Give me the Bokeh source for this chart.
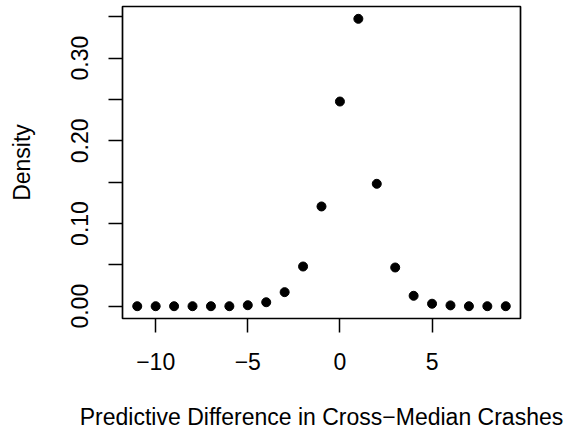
from bokeh.plotting import figure
from bokeh.models import FixedTicker, PrintfTickFormatter, CustomJSTickFormatter, Range1d
from bokeh.embed import file_html
from bokeh.resources import INLINE

# Data
diff = list(range(-11, 10))
density = [0.0, 0.0, 0.0, 0.0, 0.0, 0.0,
           0.0012, 0.0048, 0.017, 0.048, 0.1206, 0.2475,
           0.3475, 0.148, 0.0468, 0.0126, 0.003, 0.001,
           0.0, 0.0, 0.0]
x_ticks = [-10, -5, 0, 5]
y_ticks = [0.0, 0.10, 0.20, 0.30]
y_minor = [0.05, 0.15, 0.25, 0.35]

FONT = "Liberation Sans"
FS = "23px"

p = figure(width=579, height=437, output_backend="svg", toolbar_location=None,
           frame_width=398, frame_height=312,
           x_range=Range1d(-11.8, 9.8), y_range=Range1d(-0.01487, 0.3624),
           min_border_left=122, min_border_top=6, min_border_right=59, min_border_bottom=119,
           x_axis_label="Predictive Difference in Cross\u2212Median Crashes",
           y_axis_label="Density")

p.scatter(diff, density, size=9, color="black", line_color="black")

p.xgrid.visible = False
p.ygrid.visible = False
p.background_fill_color = "white"
p.border_fill_color = "white"
p.outline_line_color = "black"
p.outline_line_width = 1.7

for ax in (p.xaxis[0], p.yaxis[0]):
    ax.axis_line_color = None
    ax.major_tick_out = 14
    ax.major_tick_in = 0
    ax.major_tick_line_color = "black"
    ax.major_tick_line_width = 1.5
    ax.minor_tick_out = 14
    ax.minor_tick_in = 0
    ax.minor_tick_line_color = "black"
    ax.minor_tick_line_width = 1.5
    ax.major_label_text_font = FONT
    ax.major_label_text_font_size = FS
    ax.major_label_text_color = "black"
    ax.axis_label_text_font = FONT
    ax.axis_label_text_font_size = FS
    ax.axis_label_text_font_style = "normal"
    ax.axis_label_text_color = "black"

p.xaxis[0].ticker = FixedTicker(ticks=x_ticks)
p.xaxis[0].formatter = CustomJSTickFormatter(
    code="return tick < 0 ? '\\u2212' + Math.abs(tick) : String(tick);")
p.xaxis[0].major_label_standoff = 20
p.xaxis[0].axis_label_standoff = 31

p.yaxis[0].ticker = FixedTicker(ticks=y_ticks, minor_ticks=y_minor)
p.yaxis[0].formatter = PrintfTickFormatter(format="%.2f")
p.yaxis[0].major_label_orientation = "vertical"
p.yaxis[0].major_label_standoff = 20
p.yaxis[0].axis_label_standoff = 34

open("out.html", "w").write(file_html(p, INLINE))
